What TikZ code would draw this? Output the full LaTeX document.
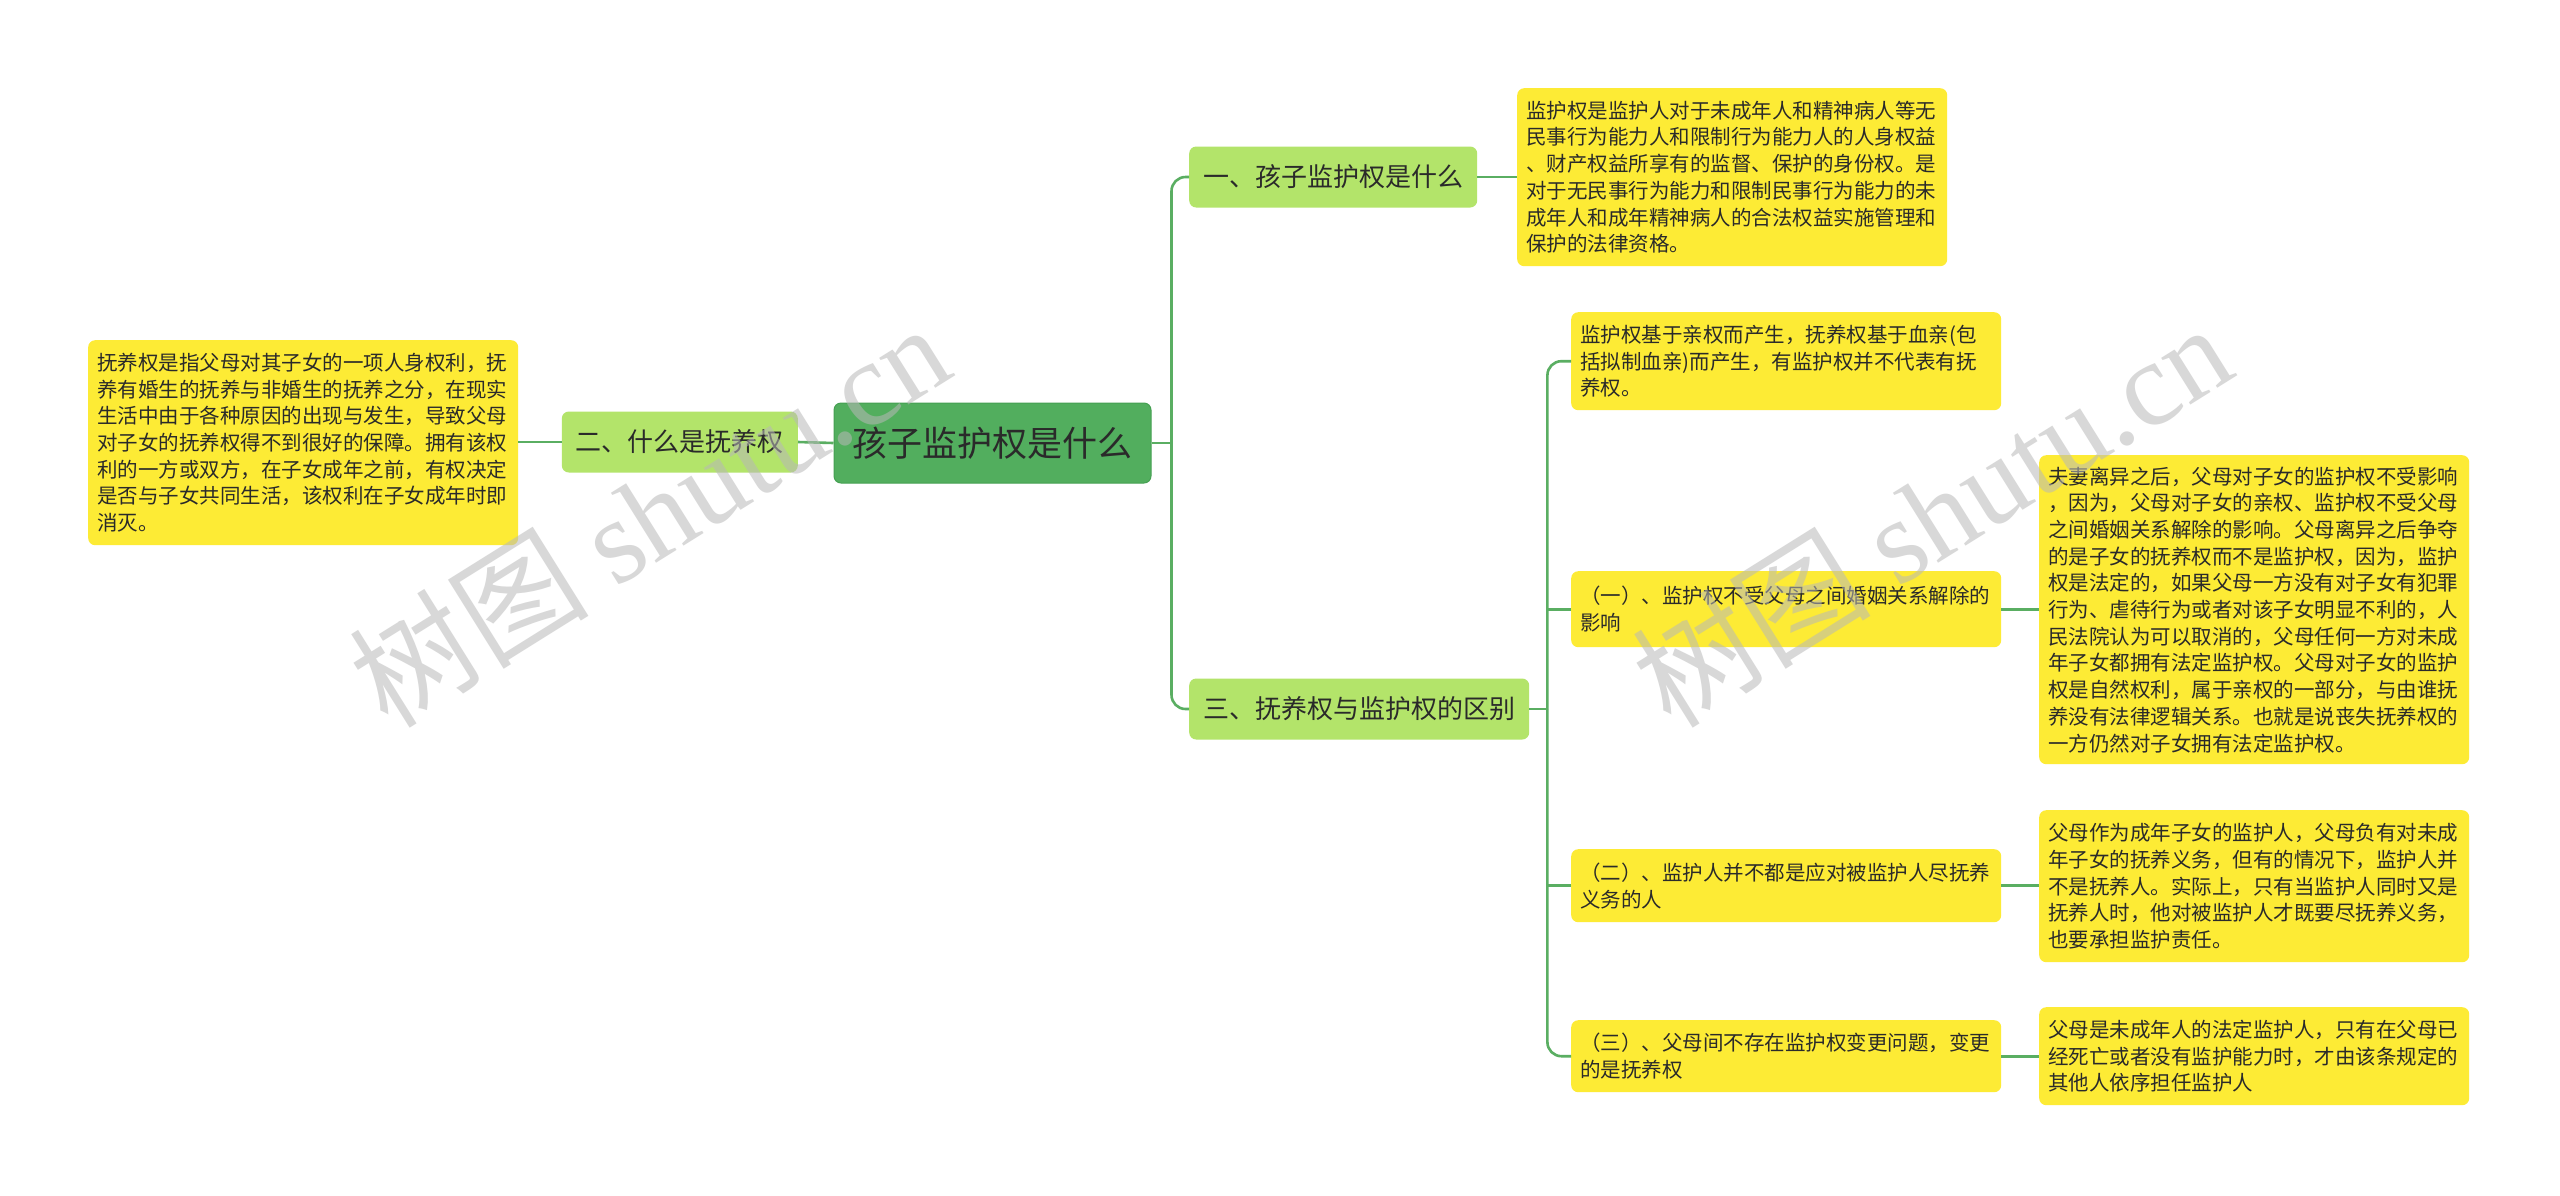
\documentclass[tikz,border=0pt]{standalone}
\usepackage{fontspec}
\setmainfont{Noto Sans CJK SC}
\newfontfamily\wmserif{Liberation Serif}
\usetikzlibrary{calc}
\definecolor{cgreen}{HTML}{52AE5E}
\definecolor{cgreenD}{HTML}{45A052}
\definecolor{lgreen}{HTML}{B3E46A}
\definecolor{ybox}{HTML}{FDEB35}
\definecolor{conn}{HTML}{5AAE62}
\definecolor{txt}{HTML}{2A2A2A}
\definecolor{wm}{HTML}{B8B8B8}
\begin{document}
\begin{tikzpicture}[x=1pt,y=-1pt,
  centralbox/.style={rectangle, rounded corners=7pt, fill=cgreen, draw=cgreenD, line width=1pt,
    text=txt, font=\fontsize{35}{42}\selectfont, inner sep=0pt},
  levelbox/.style={rectangle, rounded corners=7pt, fill=lgreen, text=txt,
    font=\fontsize{26}{31}\selectfont, inner xsep=14pt, inner ysep=0pt, minimum height=61pt},
  yellowbox/.style={rectangle, rounded corners=7pt, fill=ybox, text=txt, align=left,
    font=\fontsize{20.5}{26.7}\selectfont, inner xsep=9pt, inner ysep=0pt,
    text width=412pt, anchor=north west},
  link/.style={draw=conn, line width=2.6pt},
  rlink/.style={draw=conn, line width=2.6pt, rounded corners=14pt},
  watermark/.style={text=wm, opacity=0.55, rotate=32, font=\fontsize{120}{130}\selectfont}
]
\useasboundingbox[fill=white] (0,0) rectangle (2560,1195);

% central
\node[centralbox, minimum width=317pt, minimum height=80pt] (c) at (992.5,443) {孩子监护权是什么};

% level 1
\node[levelbox, anchor=west] (l1) at (1189,177) {一、孩子监护权是什么};
\node[levelbox, anchor=east] (l2) at (798,442) {二、什么是抚养权};
\node[levelbox, anchor=west] (l3) at (1189,709) {三、抚养权与监护权的区别};

% yellow boxes
\node[yellowbox, minimum height=178pt] (d1) at (1517,88) {监护权是监护人对于未成年人和精神病人等无\\民事行为能力人和限制行为能力人的人身权益\\、财产权益所享有的监督、保护的身份权。是\\对于无民事行为能力和限制民事行为能力的未\\成年人和成年精神病人的合法权益实施管理和\\保护的法律资格。};

\node[yellowbox, minimum height=205pt] (d2) at (88,340) {抚养权是指父母对其子女的一项人身权利，抚\\养有婚生的抚养与非婚生的抚养之分，在现实\\生活中由于各种原因的出现与发生，导致父母\\对子女的抚养权得不到很好的保障。拥有该权\\利的一方或双方，在子女成年之前，有权决定\\是否与子女共同生活，该权利在子女成年时即\\消灭。};

\node[yellowbox, minimum height=98pt] (s1) at (1571,312) {监护权基于亲权而产生，抚养权基于血亲(包\\括拟制血亲)而产生，有监护权并不代表有抚\\养权。};

\node[yellowbox, minimum height=76pt] (s2) at (1571,571) {（一）、监护权不受父母之间婚姻关系解除的\\影响};
\node[yellowbox, minimum height=309pt] (t2) at (2039,455) {夫妻离异之后，父母对子女的监护权不受影响\\，因为，父母对子女的亲权、监护权不受父母\\之间婚姻关系解除的影响。父母离异之后争夺\\的是子女的抚养权而不是监护权，因为，监护\\权是法定的，如果父母一方没有对子女有犯罪\\行为、虐待行为或者对该子女明显不利的，人\\民法院认为可以取消的，父母任何一方对未成\\年子女都拥有法定监护权。父母对子女的监护\\权是自然权利，属于亲权的一部分，与由谁抚\\养没有法律逻辑关系。也就是说丧失抚养权的\\一方仍然对子女拥有法定监护权。};

\node[yellowbox, minimum height=73pt] (s3) at (1571,849) {（二）、监护人并不都是应对被监护人尽抚养\\义务的人};
\node[yellowbox, minimum height=152pt] (t3) at (2039,810) {父母作为成年子女的监护人，父母负有对未成\\年子女的抚养义务，但有的情况下，监护人并\\不是抚养人。实际上，只有当监护人同时又是\\抚养人时，他对被监护人才既要尽抚养义务，\\也要承担监护责任。};

\node[yellowbox, minimum height=72pt] (s4) at (1571,1020) {（三）、父母间不存在监护权变更问题，变更\\的是抚养权};
\node[yellowbox, minimum height=98pt] (t4) at (2039,1007) {父母是未成年人的法定监护人，只有在父母已\\经死亡或者没有监护能力时，才由该条规定的\\其他人依序担任监护人};

% connectors
\coordinate (j1) at ($(c.east)+(20,0)$);
\draw[link] (c.east) -- (j1);
\draw[rlink] (j1) |- (l1.west);
\draw[rlink] (j1) |- (l3.west);
\draw[link] (c.west) -- (l2.east);
\draw[link] (l2.west) -- (d2.east |- l2.west);
\draw[link] (l1.east) -- (d1.west |- l1.east);

\coordinate (j3) at ($(l3.east)+(18,0)$);
\draw[link] (l3.east) -- (j3);
\draw[rlink] (j3) |- (s1.west);
\draw[rlink] (j3) |- (s4.west);
\draw[link] (s2.west) -- (s2.west -| j3);
\draw[link] (s3.west) -- (s3.west -| j3);

\draw[link] (s2.east) -- (t2.west |- s2.east);
\draw[link] (s3.east) -- (t3.west |- s3.east);
\draw[link] (s4.east) -- (t4.west |- s4.east);

% watermarks
\node[watermark] (w1) at (649,514) {树图 {\wmserif shutu.cn}};
\node[watermark] (w2) at (1931,514) {树图 {\wmserif shutu.cn}};
\end{tikzpicture}
\end{document}
